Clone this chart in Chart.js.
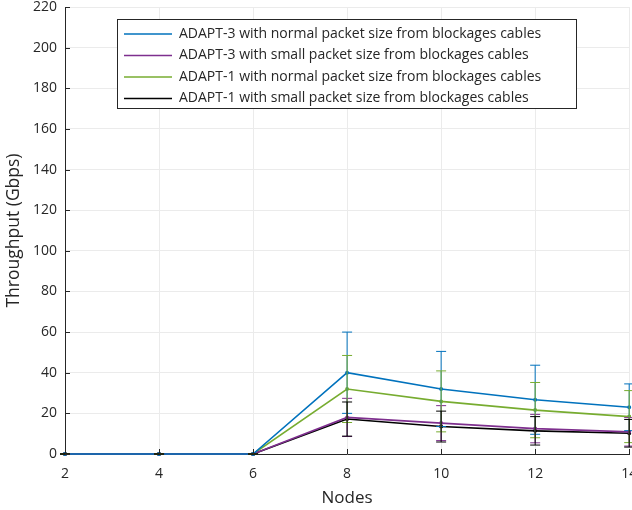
<!DOCTYPE html>
<html>
<head>
<meta charset="utf-8">
<script src="https://cdn.jsdelivr.net/npm/chart.js@4.4.1/dist/chart.umd.min.js"></script>
<style>
  html, body { margin: 0; padding: 0; background: #fff; }
  #wrap { width: 632px; height: 510px; }
</style>
</head>
<body>
<div id="wrap"><canvas id="chart-area" width="632" height="510"></canvas></div>
<script>
var nodes = [2, 4, 6, 8, 10, 12, 14];

var adapt3Normal = [0, 0, 0, 40, 32, 26.7, 23];
var adapt3NormalErr = [0, 0, 0, 20, 18.5, 17, 11.5];

var adapt3Small = [0, 0, 0, 18, 15.2, 12.5, 10.9];
var adapt3SmallErr = [0, 0, 0, 9.4, 8.6, 7, 7];

var adapt1Normal = [0, 0, 0, 32, 25.9, 21.6, 18.4];
var adapt1NormalErr = [0, 0, 0, 16.5, 15, 13.6, 12.8];

var adapt1Small = [0, 0, 0, 17.2, 13.5, 11.4, 10.2];
var adapt1SmallErr = [0, 0, 0, 8.4, 7.6, 7, 6.8];

var seriesLabels = [
  "ADAPT-3 with normal packet size from blockages cables",
  "ADAPT-3 with small packet size from blockages cables",
  "ADAPT-1 with normal packet size from blockages cables",
  "ADAPT-1 with small packet size from blockages cables"
];
var seriesColors = ["#0072BD", "#7E2F8E", "#77AC30", "#000000"];

var FONT = "'Open Sans', 'Noto Sans', sans-serif";
var TXT = "#262626";

function pts(vals) {
  return vals.map(function(v, i) { return { x: nodes[i], y: v }; });
}

var allVals = [adapt3Normal, adapt3Small, adapt1Normal, adapt1Small];
var allErrs = [adapt3NormalErr, adapt3SmallErr, adapt1NormalErr, adapt1SmallErr];

// error bars + inward ticks + legend box
var extras = {
  id: 'extras',
  afterDatasetsDraw: function(chart) {
    var ctx = chart.ctx;
    var xs = chart.scales.x, ys = chart.scales.y;
    ctx.save();
    chart.data.datasets.forEach(function(ds, d) {
      ctx.strokeStyle = ds.borderColor;
      ctx.lineWidth = 1;
      var err = ds.errors;
      ds.data.forEach(function(p, i) {
        var px = xs.getPixelForValue(p.x);
        var top = ys.getPixelForValue(p.y + err[i]);
        var bot = ys.getPixelForValue(p.y - err[i]);
        ctx.beginPath();
        ctx.moveTo(px, top); ctx.lineTo(px, bot);
        ctx.moveTo(px - 5, top); ctx.lineTo(px + 5, top);
        ctx.moveTo(px - 5, bot); ctx.lineTo(px + 5, bot);
        ctx.stroke();
      });
    });
    ctx.restore();
  },
  afterDraw: function(chart) {
    var ctx = chart.ctx;
    var xs = chart.scales.x, ys = chart.scales.y;
    var area = chart.chartArea;
    ctx.save();
    ctx.strokeStyle = TXT;
    ctx.lineWidth = 1;
    ctx.beginPath();
    ys.ticks.forEach(function(t) {
      var py = Math.round(ys.getPixelForValue(t.value)) + 0.5;
      ctx.moveTo(area.left, py); ctx.lineTo(area.left + 5, py);
    });
    xs.ticks.forEach(function(t) {
      var px = Math.round(xs.getPixelForValue(t.value)) + 0.5;
      ctx.moveTo(px, area.bottom); ctx.lineTo(px, area.bottom - 5);
    });
    ctx.stroke();

    // legend
    var bx = 117.5, by = 19.5, bw = 459, bh = 89;
    ctx.fillStyle = '#fff';
    ctx.fillRect(bx, by, bw, bh);
    ctx.strokeStyle = '#262626';
    ctx.strokeRect(bx, by, bw, bh);
    ctx.font = "14px " + FONT;
    ctx.textBaseline = 'middle';
    chart.data.datasets.forEach(function(ds, d) {
      var ry = 34 + d * 21.5;
      ctx.strokeStyle = ds.borderColor;
      ctx.lineWidth = 1.5;
      ctx.beginPath();
      ctx.moveTo(124, ry); ctx.lineTo(172, ry);
      ctx.stroke();
      ctx.fillStyle = TXT;
      ctx.fillText(ds.label, 179, ry);
    });
    ctx.restore();
  }
};

new Chart(document.getElementById("chart-area"), {
  type: 'line',
  data: {
    datasets: allVals.map(function(v, d) {
      return {
        label: seriesLabels[d],
        data: pts(v),
        errors: allErrs[d],
        borderColor: seriesColors[d],
        backgroundColor: seriesColors[d],
        borderWidth: 1.6,
        pointRadius: 1.2,
        pointHoverRadius: 0,
        tension: 0,
        fill: false,
        clip: false
      };
    })
  },
  options: {
    responsive: false,
    animation: false,
    events: [],
    layout: { padding: { top: 7, right: 2, left: 0, bottom: 0 } },
    plugins: {
      legend: { display: false },
      tooltip: { enabled: false }
    },
    scales: {
      x: {
        type: 'linear',
        min: 2, max: 14,
        ticks: { stepSize: 2, color: TXT, font: { family: FONT, size: 14 }, padding: 12 },
        grid: { color: '#ebebeb', tickLength: 0 },
        border: { color: TXT },
        title: { display: true, text: 'Nodes', color: TXT, font: { family: FONT, size: 17 }, padding: { top: 0, bottom: 2 } },
        afterFit: function(s) { s.height = 56; s.paddingRight = 0; s.paddingLeft = 0; }
      },
      y: {
        min: 0, max: 220,
        ticks: { stepSize: 20, color: TXT, font: { family: FONT, size: 14 }, padding: 8 },
        grid: { color: '#ebebeb', tickLength: 0 },
        border: { color: TXT },
        title: { display: true, text: 'Throughput (Gbps)', color: TXT, font: { family: FONT, size: 17.5 }, padding: { bottom: 4 } },
        afterFit: function(s) { s.width = 65; s.paddingTop = 0; s.paddingBottom = 0; }
      }
    }
  },
  plugins: [extras]
});
</script>
</body>
</html>
